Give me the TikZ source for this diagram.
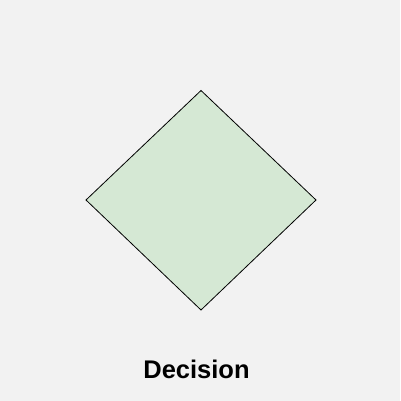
\documentclass[tikz,border=0pt]{standalone}
\usepackage{fontspec}
\setmainfont{Liberation Sans}
\definecolor{bgc}{HTML}{F2F2F2}
\definecolor{fillc}{HTML}{D5E8D4}
\tikzset{
  decisionshape/.style={draw=black, fill=fillc, line width=0.8pt, line join=miter},
  labeltext/.style={font=\fontsize{25.5}{30}\selectfont\bfseries, anchor=base, inner sep=0pt}
}
\begin{document}
\begin{tikzpicture}[x=1pt,y=1pt]
  \fill[bgc] (0,0) rectangle (400,401);
  \useasboundingbox (0,0) rectangle (400,401);
  \coordinate (top) at (201,310.5);
  \coordinate (right) at (316,201);
  \coordinate (bottom) at (201,91);
  \coordinate (left) at (86,201);
  \draw[decisionshape] (top) -- (right) -- (bottom) -- (left) -- cycle;
  \node[labeltext] (lbl) at (196.5,22.5) {Decision};
\end{tikzpicture}
\end{document}
